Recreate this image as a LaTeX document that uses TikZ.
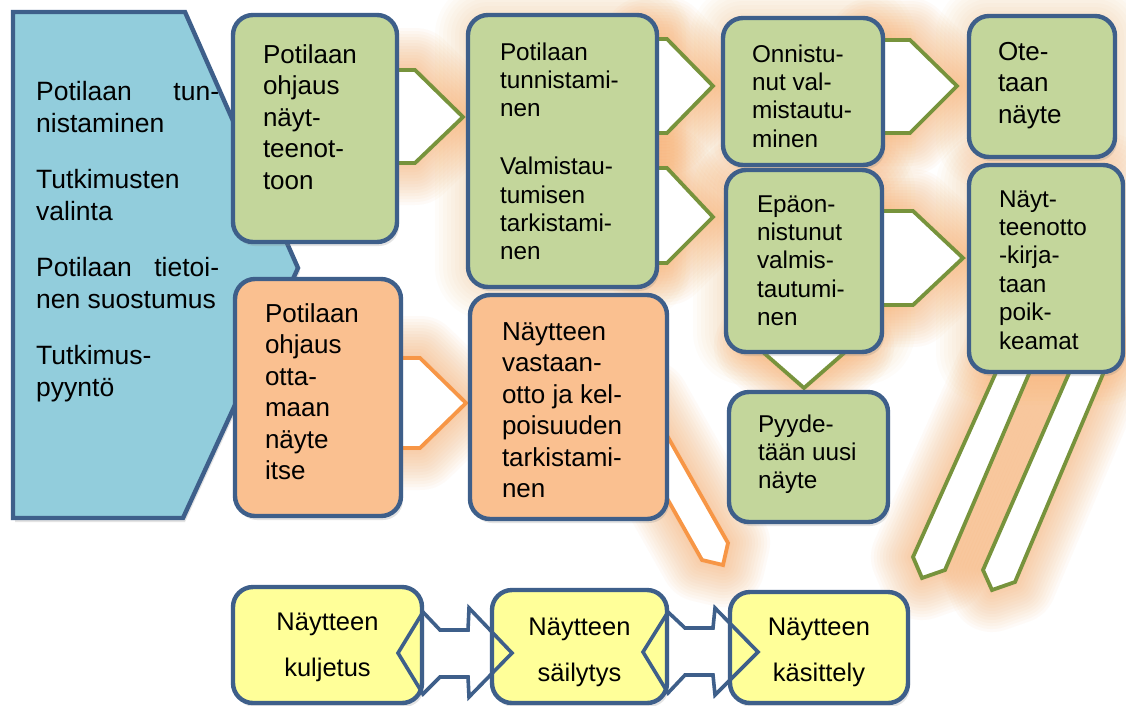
\documentclass[tikz,border=0pt]{standalone}
\usepackage{fontspec}
\setmainfont{Liberation Sans}
\usetikzlibrary{calc,shadows}
\definecolor{bluefill}{HTML}{92CDDC}
\definecolor{boxline}{HTML}{3E5F8A}
\definecolor{greenfill}{HTML}{C3D69B}
\definecolor{orangefill}{HTML}{FAC090}
\definecolor{yellowfill}{HTML}{FFFF99}
\definecolor{greenline}{HTML}{77933C}
\definecolor{orangeline}{HTML}{F79646}
\definecolor{glowc}{HTML}{F8A050}
\pgfdeclarelayer{glowlayer}
\pgfdeclarelayer{arrowlayer}
\pgfdeclarelayer{toplayer}
\pgfsetlayers{glowlayer,arrowlayer,main,toplayer}
\newcommand\boxtxt[6]{\parbox[c][#2][t]{#1}{#5\raggedright\leftskip=#3\relax\rule{0pt}{#4}#6\par}}
\newcommand\ctrtxt[5]{\parbox[c][#2][t]{#1}{#4\centering\rule{0pt}{#3}#5\par}}
\newcommand\fA{\fontsize{26}{31.5}\selectfont}
\newcommand\fB{\fontsize{24.3}{28.4}\selectfont}
\newcommand\fC{\fontsize{25.5}{46}\selectfont}
% block arrow paths
\newcommand\pArrA[1]{\path[#1] ($(b1.east|-0,70)+(-12,0)$) -- (415,70) -- ($(b2.west|-0,117)+(-5,0)$) -- (415,163) -- ($(b1.east|-0,163)+(-12,0)$) -- cycle;}
\newcommand\pArrB[1]{\path[#1] ($(b2.east|-0,39)+(-12,0)$) -- (667,39) -- ($(b3.west|-0,86)+(-10,0)$) -- (667,133) -- ($(b2.east|-0,133)+(-12,0)$) -- cycle;}
\newcommand\pArrC[1]{\path[#1] ($(b2.east|-0,168)+(-12,0)$) -- (667,168) -- ($(b5.west|-0,217)+(-13,0)$) -- (667,263) -- ($(b2.east|-0,263)+(-12,0)$) -- cycle;}
\newcommand\pArrD[1]{\path[#1] ($(b3.east|-0,40)+(-12,0)$) -- (910,40) -- ($(b4.west|-0,86)+(-12,0)$) -- (910,133) -- ($(b3.east|-0,133)+(-12,0)$) -- cycle;}
\newcommand\pArrE[1]{\path[#1] ($(b5.east|-0,211)+(-12,0)$) -- (913,211) -- ($(b6.west|-0,258)+(-6,0)$) -- (913,305) -- ($(b5.east|-0,305)+(-12,0)$) -- cycle;}
\newcommand\pArrF[1]{\path[#1] ($(b5.south)+(-24,-50)$) -- ($(b5.south)+(-24,-6)$) -- ($(b5.south)+(-48,-6)$) -- ($(b5.south|-b7.north)+(0,-4)$) -- ($(b5.south)+(48,-6)$) -- ($(b5.south)+(24,-6)$) -- ($(b5.south)+(24,-50)$) -- cycle;}
\newcommand\pArrG[1]{\path[#1] ($(b8.east|-0,358)+(-12,0)$) -- (420,358) -- ($(b9.west|-0,403)+(-4,0)$) -- (420,448) -- ($(b8.east|-0,448)+(-12,0)$) -- cycle;}
\newcommand\pArrH[1]{\path[#1] ($(b9.east)+(-19,-5)$) -- (728,543) -- (723,565) -- (702,560) -- ($(b9.east)+(-20,56)$) -- cycle;}
\newcommand\pArrI[1]{\path[#1] ($(b6.south)+(-39,-24)$) -- (913,557) -- (922,578) -- (945,570) -- ($(b6.south)+(-6,-24)$) -- cycle;}
\newcommand\pArrJ[1]{\path[#1] ($(b6.south)+(34,-24)$) -- (983,570) -- (992,590) -- (1015,582) -- ($(b6.south)+(68,-24)$) -- cycle;}
\newcommand\pDblA[1]{\path[#1] ($(y1.east|-0,653)+(-24,0)$) -- (423,612) -- (440,630) -- (468,630) -- (469,608) -- ($(y2.west|-0,653)+(20,0)$) -- (469,697) -- (468,677) -- (440,677) -- (423,694) -- cycle;}
\newcommand\pDblB[1]{\path[#1] ($(y2.east|-0,652)+(-24,0)$) -- (668,612) -- (685,628) -- (713,628) -- (715,608) -- ($(y3.west|-0,652)+(28,0)$) -- (715,695) -- (713,675) -- (685,675) -- (668,693) -- cycle;}
\tikzset{
  box/.style={draw=boxline, line width=4.4pt, rounded corners=20pt, inner sep=0pt, outer sep=0pt, anchor=north west,
    drop shadow={shadow xshift=2pt, shadow yshift=-4pt, opacity=0.22}},
  gbox/.style={box, fill=greenfill},
  obox/.style={box, fill=orangefill},
  ybox/.style={box, fill=yellowfill},
  garrow/.style={draw=greenline, fill=white, line width=3.8pt},
  oarrow/.style={draw=orangeline, fill=white, line width=3.8pt},
  barrow/.style={draw=boxline, line width=3.6pt, line join=miter},
  glowpen/.style={draw=glowc, fill=glowc, line width=#1pt, line join=round, opacity=0.045},
  boxglow/.style={draw=glowc, line width=#1pt, line join=round, opacity=0.03, rounded corners=20pt},
}
\begin{document}
\begin{tikzpicture}[x=1pt,y=-1pt]
\useasboundingbox (0,0) rectangle (1126,705);
\begin{pgfonlayer}{glowlayer}
\fill[white] (0,0) rectangle (1126,705);
\end{pgfonlayer}

% left blue shape
\path[draw=boxline, fill=bluefill, line width=4.4pt, drop shadow={shadow xshift=2pt, shadow yshift=-4pt, opacity=0.22}]
  (13,12) -- (185,12) -- (298,268) -- (183,518) -- (13,518) -- cycle;
\node[anchor=base west, inner sep=0pt] (bl) at (36,100) {\parbox[t]{183pt}{\fontsize{26.5}{32}\selectfont\raggedright
  \makebox[\linewidth][s]{Potilaan tun-}\\nistaminen\\[24pt]Tutkimusten\\valinta\\[24pt]\makebox[\linewidth][s]{Potilaan tietoi-}\\nen suostumus\\[24pt]Tutkimus-\\pyyntö\par}};

% boxes
\node[gbox] (b1) at (233,15) {\boxtxt{164pt}{227pt}{30pt}{48pt}{\fA}{Potilaan\\ohjaus\\näyt-\\teenot-\\toon}};
\node[gbox] (b2) at (468,15) {\boxtxt{189pt}{272pt}{32pt}{45pt}{\fB}{Potilaan\\tunnistami-\\nen\\[29.5pt]Valmistau-\\tumisen\\tarkistami-\\nen}};
\node[gbox] (b3) at (723,18) {\boxtxt{160pt}{147pt}{29pt}{44pt}{\fB}{Onnistu-\\nut val-\\mistautu-\\minen}};
\node[gbox] (b4) at (969,16) {\boxtxt{146pt}{141pt}{29pt}{44pt}{\fA}{Ote-\\taan\\näyte}};
\node[gbox] (b5) at (726,170) {\boxtxt{156pt}{182pt}{31pt}{42pt}{\fB}{Epäon-\\nistunut\\valmis-\\tautumi-\\nen}};
\node[gbox] (b6) at (969,165) {\boxtxt{154pt}{207pt}{30pt}{42pt}{\fB}{Näyt-\\teenotto\\-kirja-\\taan\\poik-\\keamat}};
\node[gbox] (b7) at (729,392) {\boxtxt{159pt}{130pt}{29pt}{40pt}{\fB}{Pyyde-\\tään uusi\\näyte}};
\node[obox] (b8) at (235,279) {\boxtxt{166pt}{237pt}{30pt}{43pt}{\fA}{Potilaan\\ohjaus\\otta-\\maan\\näyte\\itse}};
\node[obox] (b9) at (470,295) {\boxtxt{197pt}{224pt}{32pt}{45pt}{\fA}{Näytteen\\vastaan-\\otto ja kel-\\poisuuden\\tarkistami-\\nen}};
\node[ybox] (y1) at (233,587) {\ctrtxt{189pt}{116pt}{43pt}{\fC}{Näytteen\\kuljetus}};
\node[ybox] (y2) at (492,590) {\ctrtxt{175pt}{113pt}{45pt}{\fC}{Näytteen\\säilytys}};
\node[ybox] (y3) at (730,592) {\ctrtxt{178pt}{111pt}{43pt}{\fC}{Näytteen\\käsittely}};

% glows
\begin{pgfonlayer}{glowlayer}
\foreach \gw in {66,58,...,2}{
  \foreach \bn in {b2,b3,b4,b5,b6}{
    \path[boxglow=\gw] (\bn.north west) rectangle (\bn.south east);
  }
}
\foreach \gw in {84,78,...,2}{
  \pArrA{glowpen=\gw}
  \pArrB{glowpen=\gw}
  \pArrC{glowpen=\gw}
  \pArrD{glowpen=\gw}
  \pArrE{glowpen=\gw}
  \pArrF{glowpen=\gw}
  \pArrG{glowpen=\gw}
  \pArrH{glowpen=\gw}
  \pArrI{glowpen=\gw}
  \pArrJ{glowpen=\gw}
}
\end{pgfonlayer}

% block arrows
\begin{pgfonlayer}{arrowlayer}
\pArrA{garrow}
\pArrB{garrow}
\pArrC{garrow}
\pArrD{garrow}
\pArrE{garrow}
\pArrF{garrow}
\pArrG{oarrow}
\pArrH{oarrow}
\pArrI{garrow}
\pArrJ{garrow}
\pDblA{fill=white}
\pDblB{fill=white}
\end{pgfonlayer}

\begin{pgfonlayer}{toplayer}
\pDblA{barrow}
\pDblB{barrow}
\end{pgfonlayer}
\end{tikzpicture}
\end{document}
